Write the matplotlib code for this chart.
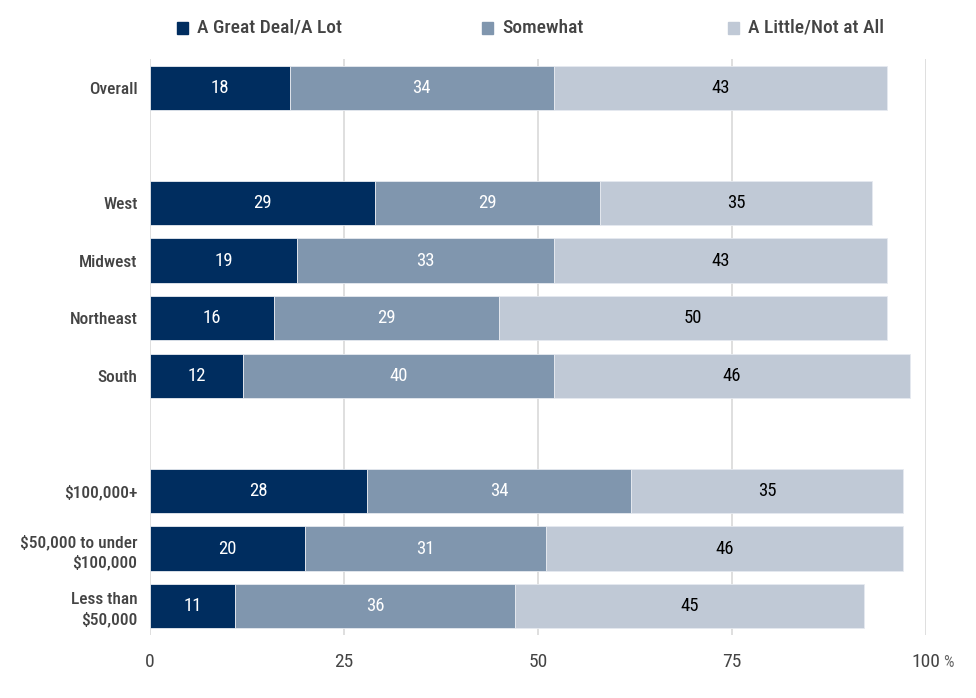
import matplotlib
matplotlib.use("Agg")
import matplotlib.pyplot as plt

plt.rcParams['font.family'] = ['Roboto Condensed', 'DejaVu Sans']

categories = ["Overall", "", "West", "Midwest", "Northeast", "South", "",
              "$100,000+", "$50,000 to under\n$100,000", "Less than\n$50,000"]
great = [18, None, 29, 19, 16, 12, None, 28, 20, 11]
somewhat = [34, None, 29, 33, 29, 40, None, 34, 31, 36]
little = [43, None, 35, 43, 50, 46, None, 35, 46, 45]
series_names = ["A Great Deal/A Lot", "Somewhat", "A Little/Not at All"]
colors = ["#002D5F", "#8096AE", "#C0C9D6"]
text_colors = ["white", "white", "black"]
xticks = [0, 25, 50, 75, 100]

fig = plt.figure(figsize=(9.76, 6.98), dpi=100)
ax = fig.add_axes([150/976, 1-635/698, (926-150)/976, (635-59)/698])

for x in xticks:
    ax.axvline(x, color="#DCDCDC", lw=1.3, zorder=0)

for i, cat in enumerate(categories):
    if great[i] is None:
        continue
    left = 0
    for vals, c, tc in zip([great, somewhat, little], colors, text_colors):
        v = vals[i]
        ax.barh(i, v, left=left, height=0.77, color=c, edgecolor="#E6EAF0", lw=0.6, zorder=2)
        ax.text(left + v/2, i, str(v), ha="center", va="center", color=tc,
                fontsize=13.5, zorder=3)
        left += v

ax.set_ylim(9.5, -0.5)
ax.set_xlim(0, 100)
ax.set_yticks([i for i, c in enumerate(categories) if c])
ax.set_yticklabels([c for c in categories if c], fontsize=12.5, color="#444444",
                   fontweight="medium", linespacing=1.35)
ax.tick_params(axis="y", length=0, pad=9)
ax.set_xticks(xticks)
ax.set_xticklabels([str(x) for x in xticks], fontsize=14, color="#444444")
ax.tick_params(axis="x", length=0, pad=13)
for s in ax.spines.values():
    s.set_visible(False)

# percent sign after the last tick label
ax.annotate("%", xy=(100, 9.5), xycoords="data", xytext=(12, -19.5), textcoords="offset points",
            fontsize=12, color="#666666", ha="left", va="center")

# legend
lx = [182, 487, 733]
for x, name, c in zip(lx, series_names, colors):
    fig.patches.append(plt.Rectangle((x/976 - 5/976, 1 - 34/698), 11/976, 12/698,
                                     transform=fig.transFigure, color=c))
    fig.text((x + 15)/976, 1 - 28/698, name, fontsize=14, color="#444444",
             va="center", ha="left", fontweight="medium")

fig.savefig("out.png", dpi=100)
